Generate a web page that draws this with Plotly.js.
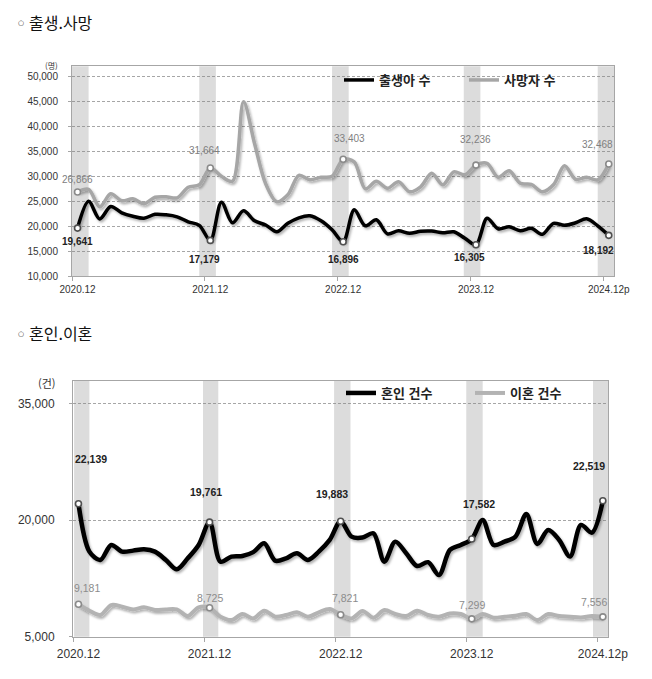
<!DOCTYPE html>
<html lang="ko">
<head>
<meta charset="utf-8">
<script src="https://cdn.plot.ly/plotly-3.0.1.min.js"></script>
<style>
	html, body { margin: 0; padding: 0; background: #fff; }
	#chart { width: 652px; height: 679px; }
</style>
</head>
<body>
<div id="chart"></div>
<script>
// 월별 인구동향, 2020.12 ~ 2024.12p (49개월)
const births = [19641, 25003, 21461, 23948, 22700, 22000, 21600, 22400, 22300, 21900, 20900, 20200,
	17179, 24800, 20700, 23100, 21100, 20270, 18900, 20600, 21700, 22100, 21100, 19300,
	16896, 23300, 20100, 21300, 18500, 19100, 18600, 19000, 19050, 18700, 18900, 17600,
	16305, 21600, 19500, 19900, 19100, 19600, 18400, 20600, 20200, 20700, 21500, 20100,
	18192]
const deaths = [26866, 27400, 23900, 26500, 25100, 25500, 24500, 25800, 25900, 25700, 27800, 28300,
	31664, 30000, 29000, 44900, 36500, 28500, 24900, 26300, 30200, 29300, 29800, 30000,
	33403, 32900, 27500, 29000, 27600, 28900, 26900, 27900, 30600, 28300, 30900, 30300,
	32236, 32600, 29800, 31100, 28600, 28400, 26900, 28300, 32100, 29400, 29800, 29300,
	32468]
const marriages = [22139, 15960, 14890, 16820, 15960, 16090, 16260, 15960, 14890, 13690, 15100, 16820,
	19761, 14670, 15320, 15400, 15900, 17040, 14800, 15100, 15750, 14890, 15960, 17470,
	19883, 17900, 17770, 18320, 14670, 17250, 15750, 14110, 14600, 12950, 16180, 16820,
	17582, 20040, 16820, 17250, 17900, 20820, 16950, 18750, 17470, 15320, 19400, 18410,
	22519]
const divorces = [9181, 8350, 7790, 9080, 8870, 8520, 8780, 8440, 8520, 8520, 7660, 8780,
	8725, 7580, 7150, 7920, 7360, 8350, 7580, 7790, 8140, 7580, 8140, 8570,
	7821, 7360, 8310, 7450, 8440, 7920, 7660, 8350, 7790, 7580, 8000, 7920,
	7299, 7920, 7450, 7580, 7700, 7920, 7150, 7920, 7660, 7580, 7490, 7660,
	7556]

const tickIdx = [0, 12, 24, 36, 48]
const tickLabels = ['2020.12', '2021.12', '2022.12', '2023.12', '2024.12p']
const labelIdx = [0, 12, 24, 36, 48]   // 값 표시하는 12월

// 12월 음영 구간 (월 index)
const bandsTop = [[-0.5, 1.0], [11, 12.5], [23, 24.5], [34.9, 36.4], [47, 48.5]]
const bandsBottom = [[-0.4, 1.0], [11.4, 12.8], [23.4, 24.9], [35.5, 37], [47.1, 48.5]]

// 라벨 위치 보정 (px)
const birthShift = [[0, -13], [-6, -19], [0, -18], [-6, -13], [-10, -15]]
const deathShift = [[0, 12], [-6, 17], [6, 21], [0, 26], [-11, 19]]
const marriageShift = [[13, 45], [-4, 30], [-9, 27], [7, 35], [-14, 35]]
const divorceShift = [[9, 16], [0, 10], [4, 17], [0, 14], [-9, 15]]


const W = 652, H = 679
const px = v => v / W
const py = v => 1 - v / H
const months = births.map((_, i) => i)
const numFont = '"Liberation Sans", Arial, sans-serif'
const krFont = '"Noto Sans CJK KR", "Noto Sans", sans-serif'


function lineTrace(y, name, color, width, xa, ya, legend) {
	return {
		x: months, y: y, name: name, type: 'scatter', mode: 'lines',
		xaxis: xa, yaxis: ya, legend: legend,
		line: { color: color, width: width, shape: 'spline', smoothing: 0.9 },
		hoverinfo: 'skip'
	}
}

function markerTrace(y, edge, xa, ya) {
	return {
		x: labelIdx, y: labelIdx.map(i => y[i]), type: 'scatter', mode: 'markers',
		xaxis: xa, yaxis: ya, showlegend: false,
		marker: { size: 6, color: '#fff', line: { color: edge, width: 1.6 } },
		hoverinfo: 'skip'
	}
}

function dataLabels(y, xa, ya, shift, font) {
	return labelIdx.map((i, k) => ({
		x: i, y: y[i], xref: xa, yref: ya,
		text: y[i].toLocaleString('en-US'),
		showarrow: false, xshift: shift[k][0], yshift: shift[k][1], font: font
	}))
}

function bandShapes(bands, xa, ya) {
	return bands.map(b => ({
		type: 'rect', xref: xa, yref: ya + ' domain', x0: b[0], x1: b[1], y0: 0, y1: 1,
		fillcolor: '#dcdcdc', line: { width: 0 }, layer: 'below'
	}))
}


const traces = [
	lineTrace(births, '출생아 수', '#000', 3.5, 'x', 'y', 'legend'),
	lineTrace(deaths, '사망자 수', '#a6a6a6', 3.5, 'x', 'y', 'legend'),
	markerTrace(births, '#505050', 'x', 'y'),
	markerTrace(deaths, '#8a8a8a', 'x', 'y'),
	lineTrace(marriages, '혼인 건수', '#000', 4.5, 'x2', 'y2', 'legend2'),
	lineTrace(divorces, '이혼 건수', '#b3b3b3', 4, 'x2', 'y2', 'legend2'),
	markerTrace(marriages, '#505050', 'x2', 'y2'),
	markerTrace(divorces, '#8a8a8a', 'x2', 'y2')
]

const xCommon = {
	range: [-0.5, 48.5], tickmode: 'array', tickvals: tickIdx, ticktext: tickLabels,
	ticks: '', showgrid: false, zeroline: false, showline: true, mirror: true,
	linecolor: '#a6a6a6', linewidth: 1, fixedrange: true,
	minor: { tickmode: 'array', tickvals: tickIdx.map(v => v - 0.5), ticks: 'outside', ticklen: 4, tickcolor: '#a6a6a6', showgrid: false }
}
const yCommon = {
	tickmode: 'array', tickformat: ',', showgrid: true, gridcolor: '#808080', griddash: '3px,2px', gridwidth: 0.7,
	zeroline: false, showline: true, mirror: true, linecolor: '#a6a6a6', linewidth: 1,
	ticks: 'outside', ticklen: 3, tickcolor: '#a6a6a6', fixedrange: true
}

const layout = {
	width: W, height: H,
	margin: { l: 0, r: 0, t: 0, b: 0 },
	paper_bgcolor: '#fff', plot_bgcolor: 'rgba(0,0,0,0)',
	xaxis: Object.assign({}, xCommon, {
		domain: [px(72), px(614.3)], anchor: 'y', ticklabelstandoff: 4,
		tickfont: { family: numFont, size: 10, color: '#333' }
	}),
	yaxis: Object.assign({}, yCommon, {
		domain: [py(276.3), py(66.3)], anchor: 'x', range: [10000, 52000],
		tickvals: [10000, 15000, 20000, 25000, 30000, 35000, 40000, 45000, 50000],
		ticklabelstandoff: 8, tickfont: { family: numFont, size: 10, color: '#333' }
	}),
	xaxis2: Object.assign({}, xCommon, {
		domain: [px(73), px(608.3)], anchor: 'y2', ticklabelstandoff: 6,
		tickfont: { family: numFont, size: 12, color: '#333' }
	}),
	yaxis2: Object.assign({}, yCommon, {
		domain: [py(636.7), py(380.6)], anchor: 'x2', range: [5000, 38000],
		tickvals: [5000, 20000, 35000],
		ticklabelstandoff: 12, tickfont: { family: numFont, size: 12, color: '#333' }
	}),
	legend: {
		orientation: 'h', x: px(339), xanchor: 'left', y: py(80), yanchor: 'middle',
		bgcolor: 'rgba(0,0,0,0)', entrywidth: 80, entrywidthmode: 'pixels',
		font: { family: krFont, size: 13, color: '#222', weight: 'bold' }
	},
	legend2: {
		orientation: 'h', x: px(341), xanchor: 'left', y: py(393), yanchor: 'middle',
		bgcolor: 'rgba(0,0,0,0)', entrywidth: 84, entrywidthmode: 'pixels',
		font: { family: krFont, size: 13, color: '#222', weight: 'bold' }
	},
	shapes: bandShapes(bandsTop, 'x', 'y').concat(bandShapes(bandsBottom, 'x2', 'y2')),
	annotations: [
		{ text: '○', xref: 'paper', yref: 'paper', x: px(20.5), y: py(23), xanchor: 'center', yanchor: 'middle', showarrow: false, font: { family: '"DejaVu Sans", sans-serif', size: 7, color: '#333' } },
		{ text: '출생.사망', xref: 'paper', yref: 'paper', x: px(27), y: py(21.7), xanchor: 'left', yanchor: 'middle', showarrow: false, font: { family: krFont, size: 16, color: '#111' } },
		{ text: '○', xref: 'paper', yref: 'paper', x: px(20.5), y: py(334.3), xanchor: 'center', yanchor: 'middle', showarrow: false, font: { family: '"DejaVu Sans", sans-serif', size: 7, color: '#333' } },
		{ text: '혼인.이혼', xref: 'paper', yref: 'paper', x: px(27), y: py(333), xanchor: 'left', yanchor: 'middle', showarrow: false, font: { family: krFont, size: 16, color: '#111' } },
		{ text: '(명)', xref: 'paper', yref: 'paper', x: px(51), y: py(65), xanchor: 'center', yanchor: 'middle', showarrow: false, font: { family: krFont, size: 8, color: '#333' } },
		{ text: '(건)', xref: 'paper', yref: 'paper', x: px(46.5), y: py(382.7), xanchor: 'center', yanchor: 'middle', showarrow: false, font: { family: krFont, size: 11, color: '#333' } }
	].concat(
		dataLabels(births, 'x', 'y', birthShift, { family: numFont, size: 10, color: '#222', weight: 'bold' }),
		dataLabels(deaths, 'x', 'y', deathShift, { family: numFont, size: 10, color: '#808080' }),
		dataLabels(marriages, 'x2', 'y2', marriageShift, { family: numFont, size: 10.5, color: '#222', weight: 'bold' }),
		dataLabels(divorces, 'x2', 'y2', divorceShift, { family: numFont, size: 10.5, color: '#8c8c8c' })
	)
}


function addShadow(gd) {
	const ns = 'http://www.w3.org/2000/svg'
	const svg = gd.querySelector('.main-svg')
	let defs = svg.querySelector('defs')
	if (!defs) { defs = document.createElementNS(ns, 'defs'); svg.insertBefore(defs, svg.firstChild) }
	const f = document.createElementNS(ns, 'filter')
	f.setAttribute('id', 'lineShadow')
	f.setAttribute('filterUnits', 'userSpaceOnUse')
	f.setAttribute('x', '-100'); f.setAttribute('y', '-100')
	f.setAttribute('width', '900'); f.setAttribute('height', '900')
	const ds = document.createElementNS(ns, 'feDropShadow')
	ds.setAttribute('dx', '1.5'); ds.setAttribute('dy', '2')
	ds.setAttribute('stdDeviation', '1.2')
	ds.setAttribute('flood-color', '#000'); ds.setAttribute('flood-opacity', '0.3')
	f.appendChild(ds)
	defs.appendChild(f)
	gd.querySelectorAll('.scatterlayer .js-line').forEach(p => p.setAttribute('filter', 'url(#lineShadow)'))
}

Plotly.newPlot('chart', traces, layout, { staticPlot: true, displayModeBar: false }).then(addShadow)
</script>
</body>
</html>
